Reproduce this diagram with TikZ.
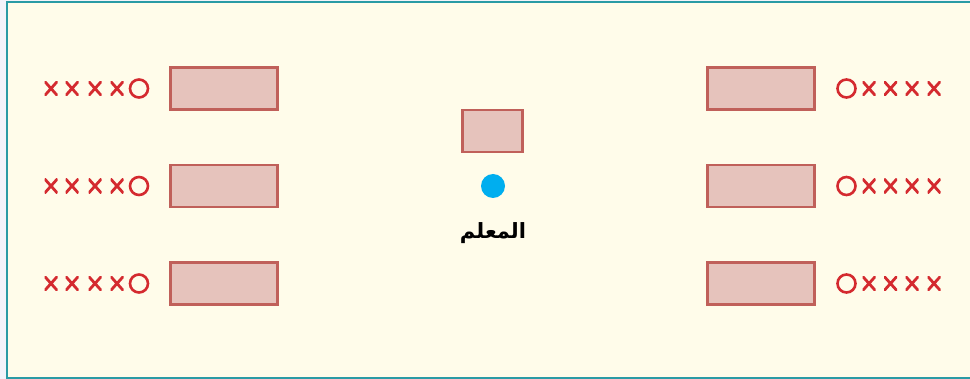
\documentclass[tikz,border=0pt]{standalone}
\usepackage{fontspec}
\newfontfamily\arabicfont[Script=Arabic]{DejaVu Sans}
\TeXXeTstate=1
\definecolor{bgc}{HTML}{FFFCEA}
\definecolor{sidec}{HTML}{F3F3FA}
\definecolor{framec}{HTML}{2A9BA5}
\definecolor{rectfill}{HTML}{E6C3BC}
\definecolor{rectdraw}{HTML}{C0605A}
\definecolor{markc}{HTML}{D42A2F}
\definecolor{dotc}{HTML}{00AEEF}
\tikzset{
  desk/.style={draw=rectdraw, fill=rectfill, line width=2.2pt, minimum width=107pt, minimum height=42pt, inner sep=0pt},
  smalldesk/.style={desk, minimum width=60pt},
  xmark/.style={inner sep=0pt, minimum width=13pt, minimum height=14.5pt, path picture={
      \draw[markc, line width=2.8pt] (path picture bounding box.south west) -- (path picture bounding box.north east)
        (path picture bounding box.north west) -- (path picture bounding box.south east);}},
  omark/.style={circle, draw=markc, line width=2.6pt, minimum size=18pt, inner sep=0pt},
}
\begin{document}
\begin{tikzpicture}[x=1pt,y=-1pt]
\useasboundingbox (0,0) rectangle (970,379);
\fill[sidec] (0,0) rectangle (970,379);
\fill[bgc] (6.5,2) rectangle (975,378);
\draw[framec, line width=2pt] (975,2) -- (6.5,2) -- (6.5,378) -- (975,378);
\foreach \r/\y in {1/88.5, 2/186, 3/283.5} {
  \node[desk] (L\r) at (224,\y) {};
  \node[desk] (R\r) at (761,\y) {};
  \node[xmark] (LA\r) at (51,\y) {};
  \node[xmark] (LB\r) at (72,\y) {};
  \node[xmark] (LC\r) at (95,\y) {};
  \node[xmark] (LD\r) at (117,\y) {};
  \node[omark] (LO\r) at (139,\y) {};
  \node[omark] (RO\r) at (846.5,\y) {};
  \node[xmark] (RA\r) at (869,\y) {};
  \node[xmark] (RB\r) at (890.5,\y) {};
  \node[xmark] (RC\r) at (912,\y) {};
  \node[xmark] (RD\r) at (934,\y) {};
}
\node[smalldesk] (T) at (492.5,131) {};
\fill[dotc] (493,186) circle (12);
\node (dot) at (493,186) {};
\node[font=\arabicfont\bfseries\fontsize{21}{24}\selectfont, inner sep=0pt] (lab) at (493,233) {\beginR المعلم\endR};
\end{tikzpicture}
\end{document}
